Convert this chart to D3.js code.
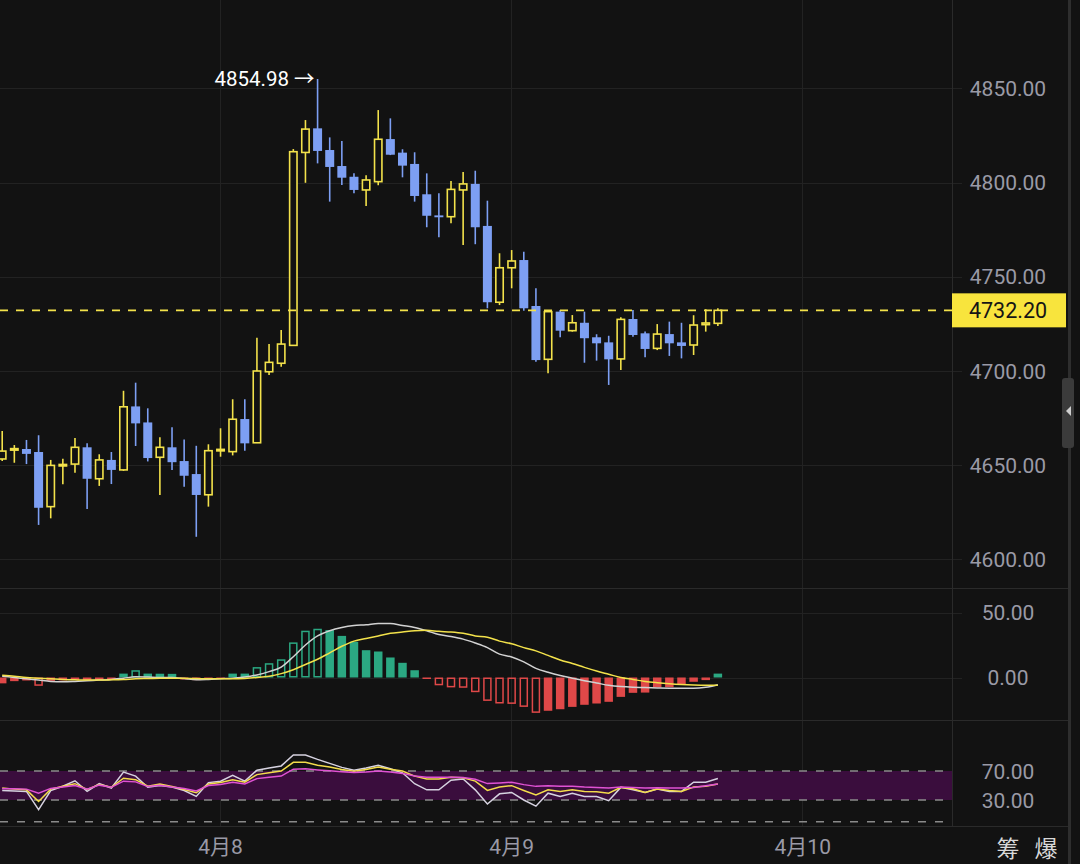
<!DOCTYPE html>
<html><head><meta charset="utf-8">
<script src="https://cdn.jsdelivr.net/npm/d3@7"></script>
<style>html,body{margin:0;padding:0;background:#121212;}svg{display:block;}</style>
</head><body>
<svg id="c" width="1080" height="864"></svg>
<script>
// ---- data (hourly candles, 4月7 06:00 .. 4月9 17:00) ----
const opens  = [4653.3,4658.0,4658.6,4657.0,4628.0,4649.6,4650.6,4659.5,4642.8,4652.8,4647.5,4681.2,4672.7,4654.2,4659.5,4652.2,4645.3,4634.3,4657.6,4657.2,4674.5,4661.9,4699.6,4704.1,4713.6,4816.0,4828.8,4817.3,4808.8,4803.1,4796.1,4800.5,4823.1,4815.9,4809.9,4793.8,4782.6,4781.9,4796.1,4799.3,4777.0,4736.5,4754.8,4758.9,4734.5,4706.2,4731.5,4721.4,4725.6,4717.9,4715.2,4706.4,4727.6,4720.0,4712.0,4719.6,4715.2,4713.8,4724.6,4725.3];
const highs  = [4668.2,4660.7,4663.4,4665.9,4652.8,4653.4,4664.4,4661.6,4655.8,4657.0,4689.5,4693.8,4680.2,4664.8,4670.1,4663.7,4660.3,4661.1,4669.6,4685.0,4685.0,4717.7,4714.3,4721.8,4817.8,4833.2,4854.98,4824.0,4822.1,4804.9,4803.9,4838.5,4834.1,4817.7,4816.1,4804.9,4794.3,4800.8,4805.6,4806.3,4790.4,4762.5,4764.2,4763.3,4743.9,4732.4,4732.4,4729.7,4731.5,4719.5,4718.7,4728.5,4732.4,4720.9,4724.9,4726.2,4725.6,4729.6,4732.8,4733.3];
const lows   = [4652.2,4651.3,4650.6,4618.3,4621.8,4639.9,4646.0,4626.7,4639.0,4640.0,4647.0,4660.2,4652.0,4634.2,4647.5,4638.6,4612.0,4628.0,4654.5,4655.2,4657.7,4661.8,4697.9,4702.3,4713.5,4799.9,4810.2,4789.9,4798.7,4794.3,4787.6,4798.6,4814.6,4802.8,4789.9,4776.3,4771.0,4778.4,4766.9,4767.3,4733.3,4735.0,4743.9,4732.0,4704.9,4698.8,4717.9,4720.9,4704.4,4705.5,4692.6,4700.5,4718.2,4707.3,4711.1,4708.0,4706.7,4708.5,4720.9,4723.9];
const closes = [4657.5,4658.8,4656.0,4627.4,4649.9,4650.4,4659.5,4642.8,4652.8,4647.5,4681.0,4672.2,4653.8,4659.5,4651.6,4644.4,4634.2,4657.7,4658.4,4674.4,4661.6,4700.0,4704.6,4714.3,4816.4,4828.4,4816.8,4808.3,4802.6,4796.1,4801.4,4823.0,4814.8,4809.0,4792.9,4782.4,4781.6,4796.4,4799.3,4776.3,4736.5,4754.8,4758.4,4733.3,4705.8,4731.5,4721.4,4725.6,4717.4,4714.7,4706.2,4727.4,4719.1,4711.7,4719.6,4714.7,4713.3,4724.4,4725.5,4732.2];

const macdHist = [-4.5,-2.8,-2.3,-6.4,-2.6,-2.2,-2.0,-1.9,-1.8,-1.5,3.0,5.6,3.0,2.9,2.8,-1.5,-2.0,-1.5,-1.0,3.0,3.0,8.0,11.0,14.0,27.0,36.0,37.5,36.5,32.0,27.5,21.0,20.0,15.4,11.3,5.6,-1.0,-6.0,-7.6,-7.9,-11.3,-18.0,-20.0,-20.3,-22.6,-27.2,-25.6,-24.4,-22.6,-21.0,-20.0,-18.7,-14.9,-11.8,-11.6,-7.7,-7.5,-5.1,-3.3,-2.0,3.0];
const dif = [1.0,0.0,-1.0,-2.0,-3.0,-3.3,-3.0,-2.5,-2.0,-1.5,-0.5,0.5,0.3,0.0,0.0,-0.8,-1.8,-1.5,-1.0,-0.5,0.3,2.0,4.5,8.0,16.0,25.0,32.0,36.0,38.5,40.0,40.5,41.5,41.5,40.0,38.5,36.0,33.0,31.5,29.5,26.5,23.0,18.0,15.8,12.0,7.0,4.0,1.5,-0.5,-2.5,-4.2,-6.0,-7.0,-7.5,-7.7,-8.0,-8.2,-8.3,-8.3,-7.5,-5.5];
const dea = [1.8,1.0,0.0,-0.5,-1.0,-1.5,-1.8,-2.0,-2.0,-1.8,-1.5,-1.0,-0.8,-0.6,-0.5,-0.6,-0.8,-1.0,-1.0,-1.0,-0.7,0.0,1.0,3.0,6.0,10.0,14.0,19.0,24.0,28.0,30.0,32.0,34.0,35.0,36.0,36.3,35.5,35.0,34.0,32.0,31.0,28.0,26.0,23.0,20.5,17.0,13.5,10.8,7.8,5.0,2.5,0.0,-1.5,-3.0,-4.0,-4.8,-5.4,-5.8,-6.0,-6.0];

const rsi6  = [43,42.5,41.8,16.8,43,49,56.5,42,52.5,46.5,68.5,63,47.5,50,48,43,35,54,56,64,56,71,74,77,92,92,86,80.5,75,71,74,78,73,67.5,52.5,44,44,57.3,59,44,24.4,38.5,40.4,30,21.5,39.4,34.7,39.4,34.7,34.7,29,47.4,44,40.4,45,41.8,41.8,54.5,54.5,59.6];
const rsi12 = [46.5,45,44,28,45,49,52.5,44.5,51.5,47.5,60,58,49,52,48.5,44.5,40,52,54,58,54.5,65,67.5,70,82,82,78,75.5,72,69.5,72,75.5,72.5,70,63,59,59,61.5,60.6,56,43.2,47.9,49.8,43.2,37,44,41.8,44,41.8,41.3,39.4,47.4,45.5,40.4,45,43.2,41.8,47.9,49,52];
const rsi24 = [45.5,45.5,45,39.5,46,48,50,45,50.5,47.5,56,55,48.5,50.5,48,46,42.5,50,51.5,54.5,52,59.5,61.5,63,72.5,73,71.5,70.3,69,68,68.5,70,68.5,66.7,63,61.5,61.5,61.5,61,58.5,52.6,53.5,54.5,51.2,48.8,49.5,48.8,48.8,47.8,47.4,46.5,47.8,47.4,46.5,46.8,46.5,46.5,47.4,49.8,52];

const priceTicks = [4600,4650,4700,4750,4800,4850];
const macdTicks = [0,50];
const rsiTicks = [30,70];
const rsiDashed = [70,30,0];
const dateTickIndex = [18,42,66];
const dateTickLabels = ["4月8","4月9","4月10"];
const lastPrice = 4732.20;
const sideLabels = ["筹","爆"];

// ---- layout ----
const svg = d3.select("#c");
const W = 1080, H = 864;
const plotRight = 952;
const BG = "#121212", GRID = "#222222", SEP = "#2a2a2a";
const UP = "#f3e24b", DOWN = "#7d9ff3", HGREEN = "#2ba882", HRED = "#df4848";
const AXIS = "#9a9aa6", FONT = "Roboto, 'Noto Sans CJK SC', sans-serif";

svg.append("rect").attr("width",W).attr("height",H).attr("fill",BG);

const n = closes.length;
const x = d3.scaleLinear().domain([0,1]).range([2.2, 2.2+12.13]);
const yP = d3.scaleLinear().domain([4600,4850]).range([559.4,88.4]);
const yM = d3.scaleLinear().domain([0,50]).range([677.5,612.5]);
const yR = d3.scaleLinear().domain([30,70]).range([800,771]);

// gridlines
const g = svg.append("g");
priceTicks.forEach(t=>g.append("line").attr("x1",0).attr("x2",962).attr("y1",Math.round(yP(t))+0.5).attr("y2",Math.round(yP(t))+0.5).attr("stroke",GRID));
macdTicks.forEach(t=>g.append("line").attr("x1",0).attr("x2",962).attr("y1",Math.round(yM(t))+0.5).attr("y2",Math.round(yM(t))+0.5).attr("stroke",GRID));
dateTickIndex.forEach(i=>g.append("line").attr("x1",Math.round(x(i))-0.5).attr("x2",Math.round(x(i))-0.5).attr("y1",0).attr("y2",826).attr("stroke",GRID));
g.append("line").attr("x1",plotRight+0.5).attr("x2",plotRight+0.5).attr("y1",0).attr("y2",826).attr("stroke",SEP);
[588,720,826].forEach(yy=>g.append("line").attr("x1",0).attr("x2",1068).attr("y1",yy+0.5).attr("y2",yy+0.5).attr("stroke",SEP));
// right strip
g.append("line").attr("x1",1069.5).attr("x2",1069.5).attr("y1",0).attr("y2",H).attr("stroke","#2e2e2e").attr("stroke-width",3);
g.append("rect").attr("x",1062).attr("y",378).attr("width",12).attr("height",70).attr("rx",3).attr("fill","#3b3b3b");
g.append("path").attr("d","M1066,411 L1071,406 L1071,416 Z").attr("fill","#cfcfcf");

// ---- candles ----
const cg = svg.append("g");
const bw = 9;
for (let i=0;i<n;i++){
  const up = closes[i] >= opens[i];
  const col = up ? UP : DOWN;
  const cx = x(i);
  cg.append("line").attr("x1",cx).attr("x2",cx).attr("y1",yP(highs[i])).attr("y2",yP(lows[i])).attr("stroke",col).attr("stroke-width",1.6);
  const top = yP(Math.max(opens[i],closes[i])), bot = yP(Math.min(opens[i],closes[i]));
  if (up){
    const h = Math.max(bot-top,1);
    cg.append("rect").attr("x",cx-bw/2+0.8).attr("y",top).attr("width",bw-1.6).attr("height",h)
      .attr("fill",BG).attr("stroke",col).attr("stroke-width",1.6);
  } else {
    cg.append("rect").attr("x",cx-bw/2).attr("y",top).attr("width",bw).attr("height",Math.max(bot-top,1.5)).attr("fill",col);
  }
}
// last price dashed line
svg.append("line").attr("x1",0).attr("x2",plotRight).attr("y1",yP(lastPrice)).attr("y2",yP(lastPrice))
  .attr("stroke",UP).attr("stroke-width",1.6).attr("stroke-dasharray","8,8");
// max annotation
const imax = d3.maxIndex(highs);
svg.append("text").attr("x",x(imax)-3).attr("y",yP(highs[imax])+7).attr("text-anchor","end")
  .attr("fill","#ffffff").attr("font-family",FONT).attr("font-size",20.5).text(d3.format(".2f")(highs[imax])+" →");

// ---- MACD ----
const mg = svg.append("g");
const hw = 8.5;
for (let i=0;i<n;i++){
  const v = macdHist[i];
  const col = v>=0 ? HGREEN : HRED;
  const grow = i>0 ? Math.abs(v) > Math.abs(macdHist[i-1]) && Math.sign(v)===Math.sign(macdHist[i-1]) : false;
  const y0 = yM(0), y1 = yM(v);
  const top = Math.min(y0,y1), h = Math.abs(y1-y0);
  if (grow && h>4){
    mg.append("rect").attr("x",x(i)-hw/2+0.75).attr("y",top+0.75).attr("width",hw-1.5).attr("height",Math.max(h-1.5,0.5))
      .attr("fill","none").attr("stroke",col).attr("stroke-width",1.5);
  } else {
    mg.append("rect").attr("x",x(i)-hw/2).attr("y",top).attr("width",hw).attr("height",Math.max(h,1.5)).attr("fill",col);
  }
}
const lineM = d3.line().x((d,i)=>x(i)).y(d=>yM(d)).curve(d3.curveMonotoneX);
mg.append("path").datum(dif).attr("d",lineM).attr("fill","none").attr("stroke","#d2d2d2").attr("stroke-width",1.5);
mg.append("path").datum(dea).attr("d",lineM).attr("fill","none").attr("stroke","#f3e24b").attr("stroke-width",1.5);

// ---- RSI ----
const rg = svg.append("g");
rg.append("rect").attr("x",0).attr("y",yR(70)).attr("width",plotRight).attr("height",yR(30)-yR(70)).attr("fill","#3a0d3d");
rsiDashed.forEach(t=>{
  const yy = yR(t);
  rg.append("line").attr("x1",0).attr("x2",plotRight).attr("y1",yy).attr("y2",yy).attr("stroke","#8a8a8a").attr("stroke-width",1.4).attr("stroke-dasharray","8,9");
});
const lineR = d3.line().x((d,i)=>x(i)).y(d=>yR(d));
rg.append("path").datum(rsi6).attr("d",lineR).attr("fill","none").attr("stroke","#d6d2e0").attr("stroke-width",1.5);
rg.append("path").datum(rsi12).attr("d",lineR).attr("fill","none").attr("stroke","#f3dc4b").attr("stroke-width",1.5);
rg.append("path").datum(rsi24).attr("d",lineR).attr("fill","none").attr("stroke","#e052d4").attr("stroke-width",1.5);

// ---- axes labels ----
const ax = svg.append("g").attr("font-family",FONT).attr("fill",AXIS).attr("font-size",21).attr("text-anchor","middle");
priceTicks.forEach(t=>ax.append("text").attr("x",1008).attr("y",yP(t)+7.5).text(d3.format(".2f")(t)));
macdTicks.forEach(t=>ax.append("text").attr("x",1008).attr("y",yM(t)+7.5).text(d3.format(".2f")(t)));
rsiTicks.forEach(t=>ax.append("text").attr("x",1008).attr("y",yR(t)+7.5).text(d3.format(".2f")(t)));
dateTickIndex.forEach((i,k)=>ax.append("text").attr("x",x(i)).attr("y",854).text(dateTickLabels[k]));

// last price tag
svg.append("rect").attr("x",952).attr("y",yP(lastPrice)-17).attr("width",114).attr("height",34).attr("fill","#f8e43d");
svg.append("text").attr("x",1008).attr("y",yP(lastPrice)+7.5).attr("text-anchor","middle").attr("font-family",FONT)
  .attr("font-size",21.5).attr("fill","#151515").text(d3.format(".2f")(lastPrice));

// bottom-right labels
sideLabels.forEach((s,k)=>svg.append("text").attr("x",1008+k*38).attr("y",857).attr("text-anchor","middle")
  .attr("font-family","'Noto Sans CJK SC', sans-serif").attr("font-size",23).attr("fill","#d8d8d8").text(s));
</script>
</body></html>
